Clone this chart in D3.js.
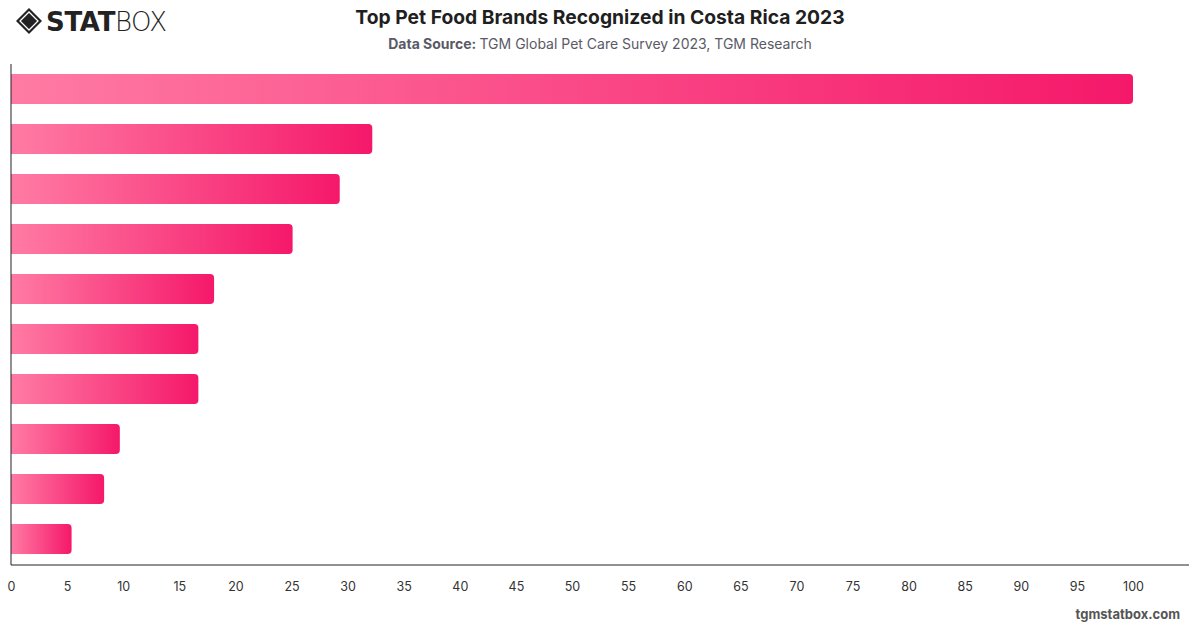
<!DOCTYPE html>
<html>
<head>
<meta charset="utf-8">
<script src="https://cdn.jsdelivr.net/npm/d3@7"></script>
<style>
  body { margin: 0; background: #fff; }
  svg { display: block; font-family: Inter, "Noto Sans", sans-serif; }
</style>
</head>
<body>
<script>
// bars have no visible labels in the reference, so the brands are just ranked
var brands = ["Brand 1", "Brand 2", "Brand 3", "Brand 4", "Brand 5",
              "Brand 6", "Brand 7", "Brand 8", "Brand 9", "Brand 10"];
var recognition = [100, 32.2, 29.3, 25.1, 18.1, 16.7, 16.7, 9.7, 8.3, 5.4];
var xTicks = d3.range(0, 101, 5);

function init() {
    var w = 1200;
    var h = 628;
    var left = 11, right = 1189, top = 64, bottom = 564;

    var svg = d3.select("body")
        .append("svg")
        .attr("width", w)
        .attr("height", h);

    var data = brands.map(function (b, i) { return { brand: b, value: recognition[i] }; });

    var x = d3.scaleLinear()
        .domain([0, 100])
        .range([left, 1133]);

    var y = d3.scaleBand()
        .domain(brands)
        .range([top, bottom])
        .paddingInner(0.4)
        .paddingOuter(0.2);

    var grad = svg.append("defs").append("linearGradient")
        .attr("id", "barGrad")
        .attr("x1", "0%").attr("x2", "100%")
        .attr("y1", "0%").attr("y2", "0%");
    grad.append("stop").attr("offset", "0%").attr("stop-color", "#ff7ba4");
    grad.append("stop").attr("offset", "100%").attr("stop-color", "#f5186a");

    // bars, rounded on the right end only
    var r = 4;
    svg.selectAll("path.bar")
        .data(data)
        .enter()
        .append("path")
        .attr("class", "bar")
        .attr("fill", "url(#barGrad)")
        .attr("d", function (d) {
            var x0 = x(0), x1 = x(d.value), y0 = y(d.brand), bh = y.bandwidth();
            return "M" + x0 + "," + y0 +
                "H" + (x1 - r) +
                "Q" + x1 + "," + y0 + " " + x1 + "," + (y0 + r) +
                "V" + (y0 + bh - r) +
                "Q" + x1 + "," + (y0 + bh) + " " + (x1 - r) + "," + (y0 + bh) +
                "H" + x0 + "Z";
        });

    // axes lines
    svg.append("line")
        .attr("x1", left).attr("x2", left)
        .attr("y1", top).attr("y2", bottom + 1)
        .attr("stroke", "#222").attr("stroke-width", 1);
    svg.append("line")
        .attr("x1", left).attr("x2", right)
        .attr("y1", bottom + 1).attr("y2", bottom + 1)
        .attr("stroke", "#222").attr("stroke-width", 1);

    var xAxis = d3.axisBottom(x)
        .tickValues(xTicks)
        .tickSize(0)
        .tickPadding(17);
    var gx = svg.append("g")
        .attr("transform", "translate(0," + (bottom + 1) + ")")
        .call(xAxis);
    gx.select(".domain").remove();
    gx.selectAll("text")
        .attr("fill", "#333")
        .style("font-size", "12.5px")
        .style("font-family", "Inter, sans-serif");

    // titles
    svg.append("text")
        .attr("x", 600).attr("y", 24)
        .attr("text-anchor", "middle")
        .attr("fill", "#1f1f1f")
        .style("font-size", "19.3px")
        .style("font-weight", "700")
        .text("Top Pet Food Brands Recognized in Costa Rica 2023");

    var sub = svg.append("text")
        .attr("x", 600).attr("y", 49)
        .attr("text-anchor", "middle")
        .attr("fill", "#5a5a66")
        .style("font-size", "14px");
    sub.append("tspan").style("font-weight", "700").text("Data Source: ");
    sub.append("tspan").text("TGM Global Pet Care Survey 2023, TGM Research");

    svg.append("text")
        .attr("x", 1180).attr("y", 619)
        .attr("text-anchor", "end")
        .attr("fill", "#555")
        .style("font-size", "13px")
        .style("font-weight", "700")
        .text("tgmstatbox.com");

    // logo
    var logo = svg.append("g").attr("transform", "translate(29,21)");
    logo.append("path")
        .attr("d", "M-13,0 L0,-13 L13,0 L0,13 Z")
        .attr("fill", "#222");
    logo.append("path")
        .attr("d", "M-9,0 L0,-9 L9,0 L0,9 Z")
        .attr("fill", "none")
        .attr("stroke", "#fff")
        .attr("stroke-width", 1.3);
    logo.append("path")
        .attr("d", "M-5,0 L0,-5 L5,0 L0,5 Z")
        .attr("fill", "#222");
    var lt = svg.append("text")
        .attr("x", 46).attr("y", 31)
        .attr("fill", "#222")
        .style("font-size", "26px")
        .style("font-family", "'DejaVu Sans', sans-serif");
    lt.append("tspan").style("font-weight", "900").attr("letter-spacing", "-0.3").text("STAT");
    lt.append("tspan").style("font-weight", "300").attr("letter-spacing", "-0.6").text("BOX");
}

window.onload = init;
</script>
</body>
</html>
